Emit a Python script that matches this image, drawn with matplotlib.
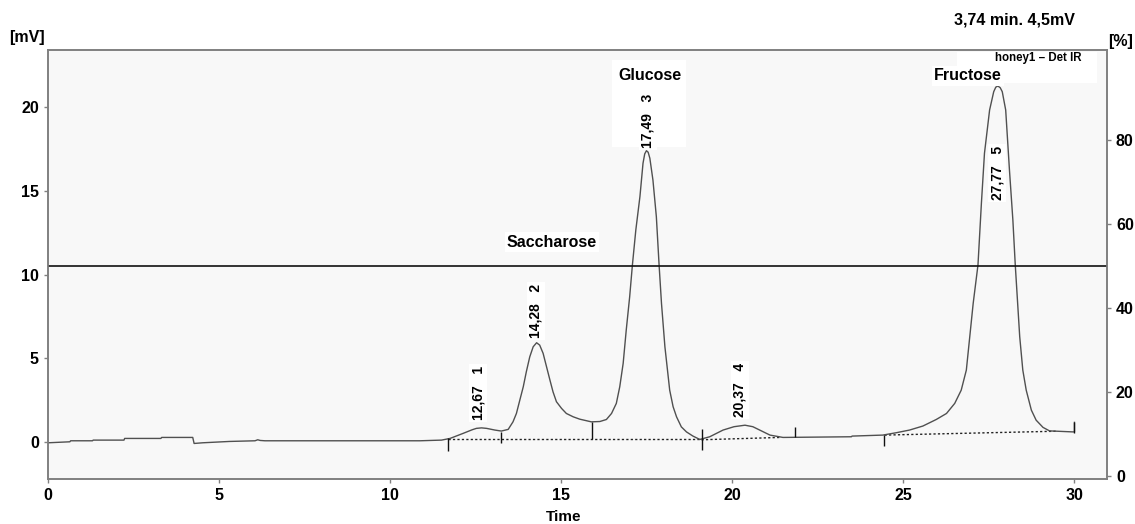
import matplotlib
matplotlib.use("Agg")
import matplotlib.pyplot as plt
from matplotlib.patches import Rectangle

plt.rcParams['font.family'] = ['Liberation Sans', 'DejaVu Sans']

# ---- data ----
time_min = [0.00, 0.64, 0.66, 1.30, 1.32, 2.22, 2.24, 3.30, 3.32, 4.23, 4.27,
            4.52, 5.30, 6.05, 6.13, 6.20, 6.34, 8.00, 10.00, 10.87, 11.50, 11.75,
            12.13, 12.40, 12.52, 12.67, 12.82, 13.06, 13.25, 13.45, 13.59, 13.69,
            13.79, 13.89, 13.98, 14.08, 14.18, 14.28, 14.37, 14.47, 14.57, 14.67,
            14.76, 14.86, 15.01, 15.15, 15.35, 15.54, 15.88, 16.13, 16.32, 16.47,
            16.61, 16.71, 16.81, 16.90, 17.00, 17.08, 17.18, 17.30, 17.39, 17.44,
            17.49, 17.54, 17.59, 17.68, 17.78, 17.86, 17.93, 18.03, 18.17, 18.27,
            18.37, 18.51, 18.66, 18.85, 19.05, 19.34, 19.73, 20.05, 20.37, 20.60,
            20.80, 21.10, 21.48, 22.50, 23.48, 23.50, 24.40, 24.79, 25.18, 25.57,
            25.96, 26.26, 26.50, 26.69, 26.84, 26.94, 27.04, 27.18, 27.28, 27.37,
            27.52, 27.64, 27.70, 27.76, 27.83, 27.89, 27.99, 28.10, 28.20, 28.27,
            28.40, 28.49, 28.59, 28.74, 28.88, 29.08, 29.27, 29.95, 30.00, 30.00]
signal_mv = [-0.04, 0.02, 0.08, 0.08, 0.12, 0.12, 0.22, 0.22, 0.28, 0.28, -0.08,
             -0.04, 0.04, 0.08, 0.14, 0.10, 0.08, 0.08, 0.08, 0.08, 0.12, 0.22,
             0.52, 0.74, 0.82, 0.85, 0.82, 0.72, 0.66, 0.76, 1.21, 1.71,
             2.51, 3.30, 4.20, 5.09, 5.69, 5.93, 5.79, 5.30, 4.50, 3.70,
             3.00, 2.41, 2.01, 1.71, 1.51, 1.37, 1.21, 1.23, 1.35, 1.71,
             2.31, 3.30, 4.70, 6.69, 8.67, 10.57, 12.66, 14.65, 16.64, 17.20,
             17.39, 17.30, 16.94, 15.64, 13.45, 10.57, 8.28, 5.69, 3.10, 2.11,
             1.51, 0.91, 0.61, 0.36, 0.16, 0.32, 0.72, 0.92, 1.01, 0.92,
             0.72, 0.42, 0.28, 0.30, 0.32, 0.36, 0.42, 0.56, 0.72, 0.96,
             1.35, 1.71, 2.31, 3.10, 4.30, 6.29, 8.28, 10.57, 14.25, 17.24,
             19.82, 20.91, 21.18, 21.25, 21.15, 20.91, 19.82, 16.24, 13.25, 10.57,
             6.29, 4.30, 3.10, 1.91, 1.31, 0.88, 0.67, 0.61, 0.61, 1.18]

# integration baselines (dashed): start time, start mV, end time, end mV
base_t0 = [11.69, 19.10, 24.45]
base_y0 = [0.16, 0.14, 0.42]
base_t1 = [19.10, 21.40, 29.47]
base_y1 = [0.16, 0.28, 0.65]

# peak delimiter marks
mark_t = [11.70, 13.24, 15.90, 19.10, 21.84, 24.43, 30.00]
mark_lo = [-0.50, -0.04, 0.16, -0.48, 0.32, -0.24, 0.55]
mark_hi = [0.22, 0.60, 1.20, 0.76, 0.91, 0.42, 1.18]

# peak labels (retention time, number)
peak_rt = ["12,67", "14,28", "17,49", "20,37", "27,77"]
peak_no = ["1", "2", "3", "4", "5"]
peak_lab_t = [12.57, 14.26, 17.53, 20.22, 27.74]
peak_lab_y = [1.31, 6.20, 17.55, 1.51, 14.45]

names = ["Saccharose", "Glucose", "Fructose"]
name_t = [14.73, 17.59, 26.88]
name_y = [11.94, 21.85, 21.85]

xticks = [0, 5, 10, 15, 20, 25, 30]
yticks_mv = [0, 5, 10, 15, 20]
yticks_pct = [0, 20, 40, 60, 80]
pct_line = 50

# ---- figure ----
fig = plt.figure(figsize=(11.35, 5.24), dpi=100)
ax = fig.add_axes([0.0423, 0.0859, 0.933, 0.8187])
ax.set_facecolor('#f8f8f8')
ax.set_xlim(0, 30.95)
ax.set_ylim(-2.2, 23.4)

ax2 = ax.twinx()
ax2.set_ylim(-0.7, 101.4)

ax.plot(time_min, signal_mv, color='#505050', lw=1.0, zorder=3)
for a, b, c, d in zip(base_t0, base_y0, base_t1, base_y1):
    ax.plot([a, c], [b, d], color='#222222', lw=1.0, ls=(0, (1.6, 1.6)), zorder=2)
ax.vlines(mark_t, mark_lo, mark_hi, color='#111111', lw=1.0, zorder=3)

ax2.axhline(pct_line, color='#111111', lw=1.2, zorder=1)

gray = '#808080'
for a in (ax, ax2):
    for s in a.spines.values():
        s.set_color(gray)
        s.set_linewidth(1.2)

tick_font = dict(fontsize=11.5, fontweight='bold')
ax.set_xticks(xticks)
ax.set_xticklabels([str(v) for v in xticks], **tick_font)
ax.set_yticks(yticks_mv)
ax.set_yticklabels([str(v) for v in yticks_mv], **tick_font)
ax2.set_yticks(yticks_pct)
ax2.set_yticklabels([str(v) for v in yticks_pct], **tick_font)
ax.tick_params(axis='both', colors=gray, labelcolor='black', length=3, width=1)
ax2.tick_params(axis='y', colors=gray, labelcolor='black', length=3, width=1)

# white label boxes
ax.add_patch(Rectangle((0.858, 0.923), 0.133, 0.072, transform=ax.transAxes,
                       fc='white', ec='none', zorder=4))
ax.add_patch(Rectangle((0.5326, 0.774), 0.070, 0.203, transform=ax.transAxes,
                       fc='white', ec='none', zorder=4))

for rt, no, t, y in zip(peak_rt, peak_no, peak_lab_t, peak_lab_y):
    ax.text(t, y, f"{rt}   {no}", rotation=90, ha='center', va='bottom',
            fontsize=10, fontweight='bold', zorder=5,
            bbox=dict(fc='white', ec='none', pad=1.5))

for n, t, y in zip(names, name_t, name_y):
    ax.text(t, y, n, ha='center', va='center', fontsize=11.5, fontweight='bold',
            zorder=5, bbox=dict(fc='white', ec='none', pad=1.5))

ax.text(0.935, 0.981, "honey1 \u2013 Det IR", transform=ax.transAxes, ha='center',
        va='center', fontsize=8.3, fontweight='bold', zorder=6)

fig.text(0.894, 0.962, "3,74 min. 4,5mV", ha='center', va='center',
         fontsize=11.5, fontweight='bold')
fig.text(0.0238, 0.929, "[mV]", ha='center', va='center', fontsize=11.5,
         fontweight='bold')
fig.text(0.9877, 0.920, "[%]", ha='center', va='center', fontsize=11.5,
         fontweight='bold')
fig.text(0.497, 0.013, "Time", ha='center', va='center', fontsize=11,
         fontweight='bold')

fig.savefig("out.png", dpi=100)
